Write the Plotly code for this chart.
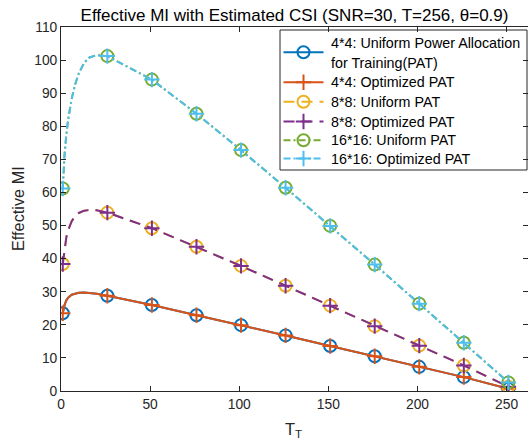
import plotly.graph_objects as go

# ---- data ----
tt = [1, 2, 3, 4, 6, 8, 10, 13, 16, 20, 26, 51, 76, 101, 126, 151, 176, 201, 226, 251]

mi_4_uniform = [23.5, 26.0, 27.4, 28.2, 29.1, 29.5, 29.7, 29.8, 29.7, 29.4, 28.8,
                26.0, 22.9, 19.9, 16.8, 13.6, 10.5, 7.3, 4.2, 0.7]
mi_4_opt = [23.5, 26.0, 27.4, 28.2, 29.1, 29.5, 29.7, 29.8, 29.7, 29.4, 28.8,
            26.0, 22.9, 19.9, 16.8, 13.6, 10.5, 7.3, 4.2, 0.7]
mi_8_uniform = [38.4, 43.5, 46.5, 48.6, 51.3, 52.9, 53.8, 54.5, 54.7, 54.6, 53.9,
                49.2, 43.6, 37.8, 31.8, 25.8, 19.6, 13.7, 7.7, 1.3]
mi_8_opt = [38.4, 43.5, 46.5, 48.6, 51.3, 52.9, 53.8, 54.5, 54.7, 54.6, 53.9,
            49.2, 43.6, 37.8, 31.8, 25.8, 19.6, 13.7, 7.7, 1.3]
mi_16_uniform = [61.2, 71.5, 77.5, 82.0, 88.3, 92.8, 96.0, 99.2, 100.8, 101.5, 101.2,
                 94.1, 83.8, 72.8, 61.4, 49.9, 38.2, 26.4, 14.6, 2.6]
mi_16_opt = [61.2, 71.5, 77.5, 82.0, 88.3, 92.8, 96.0, 99.2, 100.8, 101.5, 101.2,
             94.1, 83.8, 72.8, 61.4, 49.9, 38.2, 26.4, 14.6, 2.6]

legend_lines = [["4*4: Uniform Power Allocation", "for Training(PAT)"],
                ["4*4: Optimized PAT"],
                ["8*8: Uniform PAT"],
                ["8*8: Optimized PAT"],
                ["16*16: Uniform PAT"],
                ["16*16: Optimized PAT"]]

x_ticks = [0, 50, 100, 150, 200, 250]
y_ticks = list(range(0, 111, 10))

# ---- styles ----
FONT = "Liberation Sans, Arial, sans-serif"
AX = "#262626"
series = [
    (mi_4_uniform, "#0072BD", "solid", "circle-open"),
    (mi_4_opt, "#D95319", "solid", "cross-thin"),
    (mi_8_uniform, "#EDB120", "11px,7px", "circle-open"),
    (mi_8_opt, "#7E2F8E", "11px,7px", "cross-thin"),
    (mi_16_uniform, "#77AC30", "7px,3px,2px,3px", "circle-open"),
    (mi_16_opt, "#4DBEEE", "7px,3px,2px,3px", "cross-thin"),
]

L, R, T, B = 61, 0, 27, 54
W, H = 528, 445

mark_idx = [i for i, t in enumerate(tt) if (t - 1) % 25 == 0]


def msize(sym):
    return 12 if sym == "circle-open" else 11


fig = go.Figure()
for vals, col, dash, sym in series:
    fig.add_trace(go.Scatter(x=tt, y=vals, mode="lines",
                             line=dict(color=col, width=2, dash=dash),
                             showlegend=False, hoverinfo="skip"))
    fig.add_trace(go.Scatter(x=[tt[i] for i in mark_idx], y=[vals[i] for i in mark_idx],
                             mode="markers",
                             marker=dict(symbol=sym, size=msize(sym), color=col,
                                         line=dict(color=col, width=2)),
                             showlegend=False))

# ---- legend drawn in an overlay pixel-space axis pair ----
box_l, box_t, box_r, box_b = 280, 30, 527, 170
fig.add_trace(go.Scatter(x=[box_l, box_r, box_r, box_l, box_l],
                         y=[box_t, box_t, box_b, box_b, box_t],
                         mode="lines", fill="toself", fillcolor="white",
                         line=dict(color=AX, width=1), xaxis="x2", yaxis="y2",
                         showlegend=False, hoverinfo="skip"))
entry_y = [52.3, 82.3, 101.7, 121.5, 140.2, 158.5]
text_y = [[43.3, 63.3], [82.3], [101.7], [121.5], [140.2], [158.5]]
annotations = []
for (vals, col, dash, sym), ey, lines, tys in zip(series, entry_y, legend_lines, text_y):
    fig.add_trace(go.Scatter(x=[283.5, 323.5], y=[ey, ey], mode="lines",
                             line=dict(color=col, width=2, dash=dash),
                             xaxis="x2", yaxis="y2", showlegend=False, hoverinfo="skip"))
    fig.add_trace(go.Scatter(x=[303.5], y=[ey], mode="markers",
                             marker=dict(symbol=sym, size=msize(sym), color=col,
                                         line=dict(color=col, width=2)),
                             xaxis="x2", yaxis="y2", showlegend=False, hoverinfo="skip"))
    for txt, ty in zip(lines, tys):
        annotations.append(dict(text=txt, xref="x2", yref="y2", x=329, y=ty,
                                xanchor="left", yanchor="middle", showarrow=False,
                                font=dict(family=FONT, size=14.3, color="black")))

annotations += [
    dict(text="T<sub>T</sub>", xref="paper", yref="paper",
         x=(293 - L) / (W - L - R), y=-(418 - (H - B)) / (H - T - B),
         xanchor="center", yanchor="top", showarrow=False,
         font=dict(family=FONT, size=16.5, color=AX)),
    dict(text="Effective MI", xref="paper", yref="paper",
         x=-(L - 18) / (W - L - R), y=0.5, textangle=-90,
         xanchor="center", yanchor="middle", showarrow=False,
         font=dict(family=FONT, size=16.3, color=AX)),
]

fig.update_layout(
    width=W, height=H,
    margin=dict(l=L, r=R, t=T, b=B),
    paper_bgcolor="white", plot_bgcolor="white",
    font=dict(family=FONT, size=13, color=AX),
    showlegend=False,
    title=dict(text="Effective MI with Estimated CSI (SNR=30, T=256, θ=0.9)",
               x=(L + (W - R)) / 2 / W, xanchor="center",
               y=1 - 15 / H, yanchor="middle", yref="container",
               font=dict(family=FONT, size=17, color="black")),
    xaxis=dict(range=[0, 262], tickvals=x_ticks, ticks="inside", ticklen=5,
               tickcolor=AX, showline=True, linecolor=AX, linewidth=1,
               mirror="allticks", showgrid=False, zeroline=False, automargin=False,
               tickfont=dict(size=13.8, color=AX)),
    yaxis=dict(range=[0, 110], tickvals=y_ticks, ticks="inside", ticklen=5,
               tickcolor=AX, showline=True, linecolor=AX, linewidth=1,
               mirror="allticks", showgrid=False, zeroline=False, automargin=False,
               tickfont=dict(size=13.8, color=AX)),
    xaxis2=dict(range=[L, W - R], overlaying="x", anchor="y2", visible=False,
                fixedrange=True, automargin=False),
    yaxis2=dict(range=[H - B, T], overlaying="y", anchor="x2", visible=False,
                fixedrange=True, automargin=False),
    annotations=annotations,
)

fig.write_html("out.html", config={"displayModeBar": False},
               post_script="document.body.style.margin='0';document.body.style.padding='0';")
